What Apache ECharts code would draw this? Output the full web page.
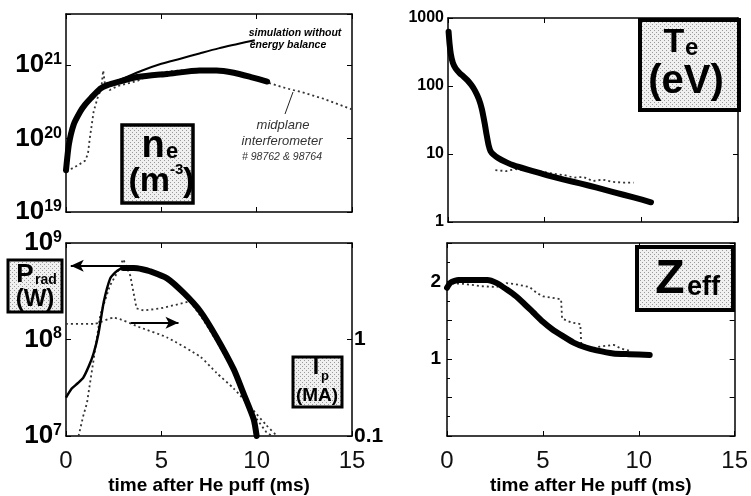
<!DOCTYPE html>
<html><head><meta charset="utf-8">
<script src="https://cdn.jsdelivr.net/npm/echarts@6/dist/echarts.min.js"></script>
<style>html,body{margin:0;padding:0;background:#fff}#c{width:751px;height:496px}</style>
</head><body><div id="c"></div>
<script>
// ---------------- data ----------------
// Top-left: electron density n_e (m^-3)
const neSimT = [0, 0.15, 0.4, 0.75, 1.0, 1.3, 1.8, 2.2, 2.7, 3.6, 4.5, 5.3, 7.0, 7.9, 8.8, 9.7, 10.55];
const neSimV = [3.7e19, 8.3e19, 1.55e20, 2.34e20, 2.9e20, 3.55e20, 4.8e20, 5.4e20, 5.9e20, 6.8e20, 7.3e20, 7.6e20, 8.5e20, 8.5e20, 7.9e20, 6.9e20, 6.0e20];
const neNoEbT = [2.3, 3, 4, 5, 6, 7, 8, 9, 9.9];
const neNoEbV = [5.5e20, 6.6e20, 8.5e20, 1.05e21, 1.23e21, 1.45e21, 1.7e21, 1.95e21, 2.2e21];
const neMeasT = [0, 0.3, 0.6, 1.0, 1.15, 1.25, 1.45, 1.65, 1.85, 1.95, 2.05, 2.3, 2.7, 3.2, 3.8, 4.5, 5.5, 6.5, 7.5, 8.5, 9.5, 10.5, 11.5, 12.5, 13.5, 14.5, 15];
const neMeasV = [3.7e19, 3.9e19, 4.3e19, 5.0e19, 6.2e19, 1.02e20, 2.34e20, 3.55e20, 4.8e20, 8.5e20, 5.4e20, 4.6e20, 5.2e20, 5.6e20, 6.2e20, 7.6e20, 8.3e20, 8.7e20, 8.7e20, 8.3e20, 7.2e20, 5.9e20, 4.9e20, 4.2e20, 3.5e20, 2.8e20, 2.5e20];
// Bottom-left: radiated power P_rad (W) and plasma current I_p (MA)
const pradSimT1 = [0, 0.3, 0.6, 0.9, 1.2, 1.45, 1.7, 1.98, 2.32, 2.6, 2.85, 3.0];
const pradSimV1 = [2.5e7, 3.1e7, 3.5e7, 4.0e7, 5.3e7, 7.2e7, 1.15e8, 2.45e8, 4.3e8, 5.0e8, 5.4e8, 5.5e8];
const pradSimT2 = [3.0, 3.55, 4.0, 4.4, 5.3, 6.2, 7.05, 7.9, 8.8, 9.3, 9.84, 10.0];
const pradSimV2 = [5.5e8, 5.5e8, 5.35e8, 5.1e8, 4.3e8, 3.0e8, 1.95e8, 1.05e8, 4.9e7, 2.8e7, 1.5e7, 1.0e7];
const pradMeasT = [0.66, 0.9, 1.1, 1.45, 1.8, 2.3, 2.7, 3.0, 3.37, 3.7, 4.07, 4.95, 5.8, 6.5, 7.2, 8.0, 8.7, 9.3, 9.9, 10.5, 10.8];
const pradMeasV = [1.0e7, 1.6e7, 2.2e7, 6.2e7, 1.8e8, 3.6e8, 5.0e8, 6.8e8, 4.6e8, 2.1e8, 2.0e8, 2.1e8, 2.3e8, 2.5e8, 1.6e8, 8.9e7, 5.0e7, 2.8e7, 1.6e7, 1.1e7, 1.0e7];
const ipT = [0, 1.45, 2.5, 3.9, 5.3, 7.05, 7.9, 8.8, 9.67, 10.5, 11.07];
const ipV = [1.45, 1.45, 1.68, 1.33, 1.05, 0.66, 0.45, 0.31, 0.2, 0.13, 0.1];
// Top-right: electron temperature T_e (eV)
const teSimT = [0.03, 0.08, 0.15, 0.25, 0.4, 0.6, 0.8, 1.0, 1.2, 1.4, 1.6, 1.75, 1.9, 2.0, 2.1, 2.2, 2.35, 2.6, 3.0, 3.4, 4.25, 5.1, 6.0, 6.83, 7.7, 8.55, 9.6, 10.5];
const teSimV = [630, 420, 290, 220, 180, 155, 138, 122, 104, 85, 64, 46, 28, 19, 13.5, 11, 9.8, 8.7, 7.6, 6.8, 5.75, 4.9, 4.2, 3.7, 3.2, 2.75, 2.3, 1.95];
const teMeasT = [2.45, 3.0, 3.5, 4.0, 4.5, 5.0, 5.5, 6.0, 6.5, 7.0, 7.5, 8.0, 8.5, 9.0, 9.6];
const teMeasV = [5.8, 5.6, 6.0, 5.8, 5.7, 5.4, 5.1, 4.9, 4.5, 4.6, 4.0, 4.2, 3.9, 3.8, 3.8];
// Bottom-right: Z_eff
const zSimT = [0, 0.2, 0.6, 2.1, 2.6, 3.1, 3.6, 4.0, 4.5, 5.0, 5.5, 6.0, 6.6, 7.2, 7.8, 8.67, 9.5, 10.57];
const zSimV = [1.92, 1.99, 2.02, 2.02, 1.98, 1.9, 1.81, 1.72, 1.6, 1.48, 1.38, 1.3, 1.21, 1.15, 1.11, 1.07, 1.06, 1.05];
const zMeasT = [0, 0.9, 1.8, 2.6, 3.1, 3.5, 4.3, 4.7, 5.0, 5.5, 5.95, 6.0, 6.5, 6.95, 7.0, 7.5, 8.0, 8.7, 9.1, 9.6];
const zMeasV = [1.98, 1.97, 1.94, 1.93, 1.98, 1.97, 1.93, 1.85, 1.81, 1.79, 1.77, 1.52, 1.47, 1.45, 1.2, 1.13, 1.16, 1.18, 1.13, 1.1];
// axis ticks
const timeTicks = [0, 5, 10, 15];
const xTitle = 'time after He puff (ms)';

// ---------------- chart ----------------
const F = "'Liberation Sans', Arial, sans-serif";
const pair = (t, v) => t.map((x, i) => [x, v[i]]);
const isPow = v => Math.abs(Math.log10(v) - Math.round(Math.log10(v))) < 1e-6;

const lineAx = {show: true, onZero: false, lineStyle: {color: '#000', width: 1.5}};
const tickIn = {show: true, inside: true, length: 5, lineStyle: {color: '#000', width: 1}};

function xAx(gi, pos, labels, name) {
  return {
    type: 'value', gridIndex: gi, position: pos, min: timeTicks[0], max: timeTicks[timeTicks.length - 1], interval: 5,
    axisLine: lineAx, axisTick: tickIn, splitLine: {show: false},
    axisLabel: {show: labels, margin: 13, fontFamily: F, fontSize: 24, color: '#111',
      formatter: v => timeTicks.includes(v) ? String(v) : ''},
    name: name || '', nameLocation: 'middle', nameGap: 40,
    nameTextStyle: {fontFamily: F, fontWeight: 'bold', fontSize: 19, color: '#000'}
  };
}
const powRich = {
  b: {fontFamily: F, fontWeight: 'bold', fontSize: 26, color: '#000'},
  s: {fontFamily: F, fontWeight: 'bold', fontSize: 16, color: '#000', padding: [0, 0, 11, 0]}
};
function logY(gi, pos, min, max, labelFn) {
  return {
    type: 'log', logBase: 10, gridIndex: gi, position: pos, min: min, max: max,
    axisLine: lineAx, axisTick: tickIn, splitLine: {show: false},
    axisLabel: labelFn ? labelFn : {show: false}
  };
}
const powLabel = {show: true, margin: 4, formatter: v => isPow(v) ? '{b|10}{s|' + Math.round(Math.log10(v)) + '}' : '', rich: powRich};

const dotted = {color: '#333', width: 1.8, type: [2, 3]};
const thick = {color: '#000', width: 6, cap: 'round', join: 'round'};
const thin = {color: '#000', width: 2, join: 'round'};
function ser(xi, yi, data, lineStyle, extra) {
  return Object.assign({type: 'line', xAxisIndex: xi, yAxisIndex: yi, data: data, showSymbol: false,
    smooth: false, lineStyle: lineStyle, silent: true, animation: false, z: 3}, extra || {});
}

// stipple fill for label boxes
function stipple() {
  const c = document.createElement('canvas'); c.width = 4; c.height = 4;
  const g = c.getContext('2d');
  g.fillStyle = '#f0f0f0'; g.fillRect(0, 0, 4, 4);
  g.fillStyle = '#9a9a9a'; g.fillRect(0, 0, 1, 1); g.fillRect(2, 2, 1, 1);
  return c;
}
const pat = {image: stipple(), repeat: 'repeat'};
function box(x, y, w, h, lw) {
  return {type: 'rect', shape: {x: x, y: y, width: w, height: h}, style: {fill: pat, stroke: '#000', lineWidth: lw || 3}, z: 10};
}
function txt(s, x, y, size, opts) {
  opts = opts || {};
  return {type: 'text', z: 11, style: {text: s, x: x, y: y, font: (opts.style || 'bold') + ' ' + size + 'px ' + F,
    fill: opts.color || '#000', align: opts.align || 'center', verticalAlign: 'middle', textAlign: opts.align || 'center', textVerticalAlign: 'middle'}};
}

const chart = echarts.init(document.getElementById('c'), null, {renderer: 'canvas'});
chart.setOption({
  animation: false,
  backgroundColor: '#fff',
  grid: [
    {left: 66, top: 14, width: 286, height: 198},
    {left: 66, top: 243, width: 286, height: 200},
    {left: 448, top: 18, width: 290, height: 204},
    {left: 447, top: 243, width: 288, height: 200}
  ],
  xAxis: [
    xAx(0, 'bottom', false), xAx(1, 'bottom', true, xTitle), xAx(2, 'bottom', false), xAx(3, 'bottom', true, xTitle),
    xAx(0, 'top', false), xAx(1, 'top', false), xAx(2, 'top', false), xAx(3, 'top', false)
  ],
  yAxis: [
    logY(0, 'left', 1e19, 5e21, powLabel),
    logY(1, 'left', 1e7, 1e9, powLabel),
    logY(2, 'left', 1, 1000, {show: true, margin: 4, fontFamily: F, fontWeight: 'bold', fontSize: 16, color: '#000',
      formatter: v => isPow(v) ? String(Math.round(v)) : ''}),
    {type: 'value', gridIndex: 3, position: 'left', min: 0, max: 2.5, interval: 0.5,
      axisLine: lineAx, axisTick: tickIn, minorTick: {show: true, splitNumber: 2, length: 3, lineStyle: {color: '#000'}},
      splitLine: {show: false},
      axisLabel: {show: true, margin: 6, fontFamily: F, fontWeight: 'bold', fontSize: 19, color: '#000',
        formatter: v => (v === 1 || v === 2) ? String(v) : ''}},
    logY(0, 'right', 1e19, 5e21, null),
    logY(1, 'right', 0.1, 10, {show: true, margin: 2, fontFamily: F, fontWeight: 'bold', fontSize: 21, color: '#000',
      formatter: v => Math.abs(v - 1) < 1e-6 ? '1' : (Math.abs(v - 0.1) < 1e-6 ? '0.1' : '')}),
    logY(2, 'right', 1, 1000, null),
    {type: 'value', gridIndex: 3, position: 'right', min: 0, max: 2.5, interval: 0.5,
      axisLine: lineAx, axisTick: tickIn, splitLine: {show: false}, axisLabel: {show: false}}
  ],
  series: [
    ser(0, 0, pair(neMeasT, neMeasV), dotted),
    ser(0, 0, pair(neNoEbT, neNoEbV), thin, {smooth: 0.3}),
    ser(0, 0, pair(neSimT, neSimV), thick, {smooth: 0.2}),
    ser(1, 1, pair(pradMeasT, pradMeasV), dotted),
    ser(1, 5, pair(ipT, ipV), dotted, {smooth: 0.2}),
    ser(1, 1, pair(pradSimT1, pradSimV1), {color: '#000', width: 2.5, join: 'round'}, {smooth: 0.2}),
    ser(1, 1, pair(pradSimT2, pradSimV2), thick, {
      smooth: 0.2,
      markLine: {silent: true, symbol: ['none', 'arrow'], symbolSize: [9, 13], label: {show: false},
        lineStyle: {color: '#000', type: 'solid', width: 2},
        data: [[{coord: [3.0, 5.8e8]}, {coord: [0.25, 5.8e8]}], [{coord: [3.4, 1.49e8]}, {coord: [5.9, 1.49e8]}]]}
    }),
    ser(2, 2, pair(teMeasT, teMeasV), dotted),
    ser(2, 2, pair(teSimT, teSimV), thick, {smooth: 0.2}),
    ser(3, 3, pair(zMeasT, zMeasV), dotted),
    ser(3, 3, pair(zSimT, zSimV), thick, {smooth: 0.2})
  ],
  graphic: [
    // n_e box
    box(122, 125, 71, 78, 3.5),
    txt('n', 153, 147, 38),
    txt('e', 166, 152, 22, {align: 'left'}),
    txt('(m', 170, 182, 34, {align: 'right'}),
    txt('-3', 170, 170, 15, {align: 'left'}),
    txt(')', 183, 182, 34, {align: 'left'}),
    // annotations
    txt('simulation without', 295, 33, 10.5, {style: 'italic bold'}),
    txt('energy balance', 288, 45, 10.5, {style: 'italic bold'}),
    txt('midplane', 283, 125, 13, {style: 'italic', color: '#333'}),
    txt('interferometer', 282, 141, 13, {style: 'italic', color: '#333'}),
    txt('# 98762 & 98764', 282, 157, 10.5, {style: 'italic', color: '#333'}),
    {type: 'line', z: 9, shape: {x1: 293, y1: 92, x2: 285, y2: 114}, style: {stroke: '#222', lineWidth: 1}},
    // T_e box
    box(640, 20, 99, 90, 4),
    txt('T', 674, 43, 34),
    txt('e', 685, 48, 24, {align: 'left'}),
    txt('(eV)', 686, 82, 40),
    // Z_eff box
    box(637, 247, 96, 63, 4),
    txt('Z', 670, 280, 48),
    txt('eff', 687, 288, 27, {align: 'left'}),
    // P_rad box
    box(8, 260, 54, 52, 3),
    txt('P', 25, 275, 26),
    txt('rad', 35, 280, 14, {align: 'left'}),
    txt('(W)', 35, 299, 24),
    // I_p box
    box(293, 357, 49, 50, 3),
    txt('I', 316, 368, 23),
    txt('p', 321, 376, 13, {align: 'left'}),
    txt('(MA)', 317, 396, 19)
  ]
});
</script>
</body></html>
